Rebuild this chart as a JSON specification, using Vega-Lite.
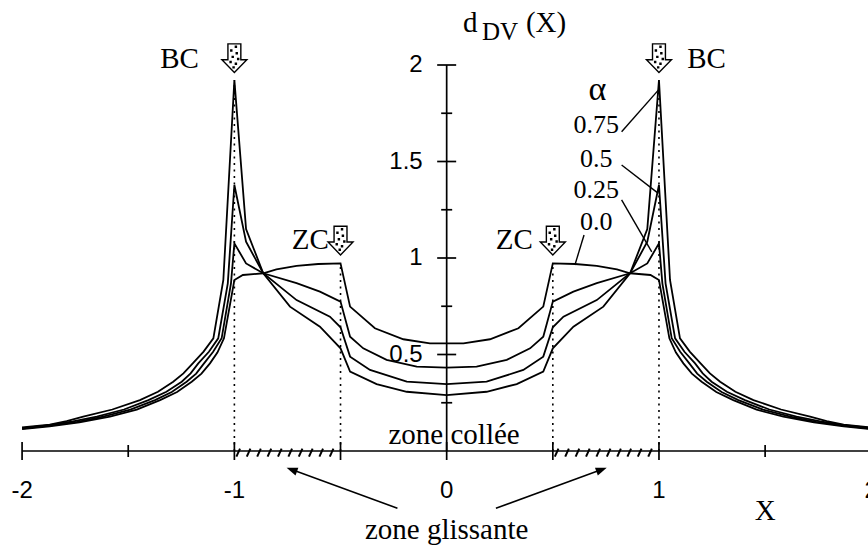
{
  "$schema": "https://vega.github.io/schema/vega-lite/v6.json",
  "width": 868,
  "height": 546,
  "padding": 0,
  "autosize": "none",
  "background": "white",
  "config": {"view": {"stroke": null}},
  "datasets": {
    "curves": [
      {"alpha": "0.0", "x": -2, "y": 0.113}, {"alpha": "0.0", "x": -1.87, "y": 0.128}, {"alpha": "0.0", "x": -1.73, "y": 0.149}, {"alpha": "0.0", "x": -1.586, "y": 0.178}, {"alpha": "0.0", "x": -1.46, "y": 0.214}, {"alpha": "0.0", "x": -1.35, "y": 0.264}, {"alpha": "0.0", "x": -1.27, "y": 0.306}, {"alpha": "0.0", "x": -1.201, "y": 0.359}, {"alpha": "0.0", "x": -1.155, "y": 0.401}, {"alpha": "0.0", "x": -1.115, "y": 0.454}, {"alpha": "0.0", "x": -1.08, "y": 0.51}, {"alpha": "0.0", "x": -1.049, "y": 0.584}, {"alpha": "0.0", "x": -1, "y": 0.886}, {"alpha": "0.0", "x": -0.96, "y": 0.912}, {"alpha": "0.0", "x": -0.864, "y": 0.921}, {"alpha": "0.0", "x": -0.802, "y": 0.941}, {"alpha": "0.0", "x": -0.707, "y": 0.959}, {"alpha": "0.0", "x": -0.605, "y": 0.969}, {"alpha": "0.0", "x": -0.5, "y": 0.972}, {"alpha": "0.0", "x": -0.455, "y": 0.748}, {"alpha": "0.0", "x": -0.338, "y": 0.636}, {"alpha": "0.0", "x": -0.204, "y": 0.579}, {"alpha": "0.0", "x": -0.079, "y": 0.558}, {"alpha": "0.0", "x": 0, "y": 0.558},
      {"alpha": "0.0", "x": 0.079, "y": 0.558}, {"alpha": "0.0", "x": 0.204, "y": 0.579}, {"alpha": "0.0", "x": 0.338, "y": 0.636}, {"alpha": "0.0", "x": 0.455, "y": 0.748}, {"alpha": "0.0", "x": 0.5, "y": 0.972}, {"alpha": "0.0", "x": 0.605, "y": 0.969}, {"alpha": "0.0", "x": 0.707, "y": 0.959}, {"alpha": "0.0", "x": 0.802, "y": 0.941}, {"alpha": "0.0", "x": 0.864, "y": 0.921}, {"alpha": "0.0", "x": 0.96, "y": 0.912}, {"alpha": "0.0", "x": 1, "y": 0.886}, {"alpha": "0.0", "x": 1.049, "y": 0.584}, {"alpha": "0.0", "x": 1.08, "y": 0.51}, {"alpha": "0.0", "x": 1.115, "y": 0.454}, {"alpha": "0.0", "x": 1.155, "y": 0.401}, {"alpha": "0.0", "x": 1.201, "y": 0.359}, {"alpha": "0.0", "x": 1.27, "y": 0.306}, {"alpha": "0.0", "x": 1.35, "y": 0.264}, {"alpha": "0.0", "x": 1.46, "y": 0.214}, {"alpha": "0.0", "x": 1.586, "y": 0.178}, {"alpha": "0.0", "x": 1.73, "y": 0.149}, {"alpha": "0.0", "x": 1.87, "y": 0.128}, {"alpha": "0.0", "x": 2, "y": 0.113},

      {"alpha": "0.25", "x": -2, "y": 0.116}, {"alpha": "0.25", "x": -1.87, "y": 0.131}, {"alpha": "0.25", "x": -1.74, "y": 0.151}, {"alpha": "0.25", "x": -1.618, "y": 0.178}, {"alpha": "0.25", "x": -1.49, "y": 0.214}, {"alpha": "0.25", "x": -1.374, "y": 0.264}, {"alpha": "0.25", "x": -1.295, "y": 0.306}, {"alpha": "0.25", "x": -1.225, "y": 0.359}, {"alpha": "0.25", "x": -1.18, "y": 0.401}, {"alpha": "0.25", "x": -1.143, "y": 0.454}, {"alpha": "0.25", "x": -1.1, "y": 0.514}, {"alpha": "0.25", "x": -1.06, "y": 0.584}, {"alpha": "0.25", "x": -1.016, "y": 0.869}, {"alpha": "0.25", "x": -1, "y": 1.076}, {"alpha": "0.25", "x": -0.945, "y": 0.972}, {"alpha": "0.25", "x": -0.864, "y": 0.921}, {"alpha": "0.25", "x": -0.707, "y": 0.87}, {"alpha": "0.25", "x": -0.597, "y": 0.826}, {"alpha": "0.25", "x": -0.5, "y": 0.774}, {"alpha": "0.25", "x": -0.455, "y": 0.592}, {"alpha": "0.25", "x": -0.393, "y": 0.532}, {"alpha": "0.25", "x": -0.283, "y": 0.472}, {"alpha": "0.25", "x": -0.141, "y": 0.437}, {"alpha": "0.25", "x": 0, "y": 0.432},
      {"alpha": "0.25", "x": 0.141, "y": 0.437}, {"alpha": "0.25", "x": 0.283, "y": 0.472}, {"alpha": "0.25", "x": 0.393, "y": 0.532}, {"alpha": "0.25", "x": 0.455, "y": 0.592}, {"alpha": "0.25", "x": 0.5, "y": 0.774}, {"alpha": "0.25", "x": 0.597, "y": 0.826}, {"alpha": "0.25", "x": 0.707, "y": 0.87}, {"alpha": "0.25", "x": 0.864, "y": 0.921}, {"alpha": "0.25", "x": 0.945, "y": 0.972}, {"alpha": "0.25", "x": 1, "y": 1.076}, {"alpha": "0.25", "x": 1.016, "y": 0.869}, {"alpha": "0.25", "x": 1.06, "y": 0.584}, {"alpha": "0.25", "x": 1.1, "y": 0.514}, {"alpha": "0.25", "x": 1.143, "y": 0.454}, {"alpha": "0.25", "x": 1.18, "y": 0.401}, {"alpha": "0.25", "x": 1.225, "y": 0.359}, {"alpha": "0.25", "x": 1.295, "y": 0.306}, {"alpha": "0.25", "x": 1.374, "y": 0.264}, {"alpha": "0.25", "x": 1.49, "y": 0.214}, {"alpha": "0.25", "x": 1.618, "y": 0.178}, {"alpha": "0.25", "x": 1.74, "y": 0.151}, {"alpha": "0.25", "x": 1.87, "y": 0.131}, {"alpha": "0.25", "x": 2, "y": 0.116},

      {"alpha": "0.5", "x": -2, "y": 0.119}, {"alpha": "0.5", "x": -1.87, "y": 0.134}, {"alpha": "0.5", "x": -1.76, "y": 0.154}, {"alpha": "0.5", "x": -1.648, "y": 0.178}, {"alpha": "0.5", "x": -1.52, "y": 0.215}, {"alpha": "0.5", "x": -1.405, "y": 0.264}, {"alpha": "0.5", "x": -1.32, "y": 0.307}, {"alpha": "0.5", "x": -1.248, "y": 0.359}, {"alpha": "0.5", "x": -1.206, "y": 0.402}, {"alpha": "0.5", "x": -1.17, "y": 0.454}, {"alpha": "0.5", "x": -1.12, "y": 0.514}, {"alpha": "0.5", "x": -1.076, "y": 0.584}, {"alpha": "0.5", "x": -1.031, "y": 0.869}, {"alpha": "0.5", "x": -1, "y": 1.378}, {"alpha": "0.5", "x": -0.945, "y": 1.084}, {"alpha": "0.5", "x": -0.864, "y": 0.921}, {"alpha": "0.5", "x": -0.707, "y": 0.782}, {"alpha": "0.5", "x": -0.55, "y": 0.696}, {"alpha": "0.5", "x": -0.5, "y": 0.641}, {"alpha": "0.5", "x": -0.455, "y": 0.489}, {"alpha": "0.5", "x": -0.361, "y": 0.42}, {"alpha": "0.5", "x": -0.188, "y": 0.359}, {"alpha": "0.5", "x": 0, "y": 0.347},
      {"alpha": "0.5", "x": 0.188, "y": 0.359}, {"alpha": "0.5", "x": 0.361, "y": 0.42}, {"alpha": "0.5", "x": 0.455, "y": 0.489}, {"alpha": "0.5", "x": 0.5, "y": 0.641}, {"alpha": "0.5", "x": 0.55, "y": 0.696}, {"alpha": "0.5", "x": 0.707, "y": 0.782}, {"alpha": "0.5", "x": 0.864, "y": 0.921}, {"alpha": "0.5", "x": 0.945, "y": 1.084}, {"alpha": "0.5", "x": 1, "y": 1.378}, {"alpha": "0.5", "x": 1.031, "y": 0.869}, {"alpha": "0.5", "x": 1.076, "y": 0.584}, {"alpha": "0.5", "x": 1.12, "y": 0.514}, {"alpha": "0.5", "x": 1.17, "y": 0.454}, {"alpha": "0.5", "x": 1.206, "y": 0.402}, {"alpha": "0.5", "x": 1.248, "y": 0.359}, {"alpha": "0.5", "x": 1.32, "y": 0.307}, {"alpha": "0.5", "x": 1.405, "y": 0.264}, {"alpha": "0.5", "x": 1.52, "y": 0.215}, {"alpha": "0.5", "x": 1.648, "y": 0.178}, {"alpha": "0.5", "x": 1.76, "y": 0.154}, {"alpha": "0.5", "x": 1.87, "y": 0.134}, {"alpha": "0.5", "x": 2, "y": 0.119},

      {"alpha": "0.75", "x": -2, "y": 0.122}, {"alpha": "0.75", "x": -1.87, "y": 0.137}, {"alpha": "0.75", "x": -1.79, "y": 0.155}, {"alpha": "0.75", "x": -1.712, "y": 0.178}, {"alpha": "0.75", "x": -1.575, "y": 0.215}, {"alpha": "0.75", "x": -1.445, "y": 0.264}, {"alpha": "0.75", "x": -1.36, "y": 0.307}, {"alpha": "0.75", "x": -1.288, "y": 0.359}, {"alpha": "0.75", "x": -1.24, "y": 0.402}, {"alpha": "0.75", "x": -1.196, "y": 0.454}, {"alpha": "0.75", "x": -1.145, "y": 0.515}, {"alpha": "0.75", "x": -1.099, "y": 0.584}, {"alpha": "0.75", "x": -1.052, "y": 0.886}, {"alpha": "0.75", "x": -1, "y": 1.922}, {"alpha": "0.75", "x": -0.945, "y": 1.15}, {"alpha": "0.75", "x": -0.864, "y": 0.921}, {"alpha": "0.75", "x": -0.738, "y": 0.748}, {"alpha": "0.75", "x": -0.597, "y": 0.644}, {"alpha": "0.75", "x": -0.5, "y": 0.532}, {"alpha": "0.75", "x": -0.455, "y": 0.411}, {"alpha": "0.75", "x": -0.33, "y": 0.347}, {"alpha": "0.75", "x": -0.188, "y": 0.307}, {"alpha": "0.75", "x": 0, "y": 0.29},
      {"alpha": "0.75", "x": 0.188, "y": 0.307}, {"alpha": "0.75", "x": 0.33, "y": 0.347}, {"alpha": "0.75", "x": 0.455, "y": 0.411}, {"alpha": "0.75", "x": 0.5, "y": 0.532}, {"alpha": "0.75", "x": 0.597, "y": 0.644}, {"alpha": "0.75", "x": 0.738, "y": 0.748}, {"alpha": "0.75", "x": 0.864, "y": 0.921}, {"alpha": "0.75", "x": 0.945, "y": 1.15}, {"alpha": "0.75", "x": 1, "y": 1.922}, {"alpha": "0.75", "x": 1.052, "y": 0.886}, {"alpha": "0.75", "x": 1.099, "y": 0.584}, {"alpha": "0.75", "x": 1.145, "y": 0.515}, {"alpha": "0.75", "x": 1.196, "y": 0.454}, {"alpha": "0.75", "x": 1.24, "y": 0.402}, {"alpha": "0.75", "x": 1.288, "y": 0.359}, {"alpha": "0.75", "x": 1.36, "y": 0.307}, {"alpha": "0.75", "x": 1.445, "y": 0.264}, {"alpha": "0.75", "x": 1.575, "y": 0.215}, {"alpha": "0.75", "x": 1.712, "y": 0.178}, {"alpha": "0.75", "x": 1.79, "y": 0.155}, {"alpha": "0.75", "x": 1.87, "y": 0.137}, {"alpha": "0.75", "x": 2, "y": 0.122}
    ],
    "axes": [
      {"axis": "x", "x": -2, "x2": 1.9846, "y": 0, "y2": 0},
      {"axis": "y", "x": 0, "x2": 0, "y": 0, "y2": 2}
    ],
    "vlines": [
      {"x": -1, "y": 0, "y2": 1.922}, {"x": -0.5, "y": 0, "y2": 0.972}, {"x": 0.5, "y": 0, "y2": 0.972}, {"x": 1, "y": 0, "y2": 1.922}
    ],
    "xticks": [
      {"x": -2, "kind": "major"}, {"x": -1.5, "kind": "minor"}, {"x": -1, "kind": "major"}, {"x": -0.5, "kind": "major"}, {"x": 0, "kind": "major"}, {"x": 0.5, "kind": "major"}, {"x": 1, "kind": "major"}, {"x": 1.5, "kind": "minor"}, {"x": 2, "kind": "major"}
    ],
    "yticks": [
      {"y": 0.25, "kind": "minor"}, {"y": 0.5, "kind": "major"}, {"y": 0.75, "kind": "minor"}, {"y": 1, "kind": "major"}, {"y": 1.25, "kind": "minor"}, {"y": 1.5, "kind": "major"}, {"y": 1.75, "kind": "minor"}, {"y": 2, "kind": "major"}
    ],
    "hatch": [
      {"x": -0.982}, {"x": -0.933}, {"x": -0.884}, {"x": -0.835}, {"x": -0.786}, {"x": -0.737}, {"x": -0.688}, {"x": -0.64}, {"x": -0.591}, {"x": -0.542},
      {"x": 0.518}, {"x": 0.567}, {"x": 0.616}, {"x": 0.665}, {"x": 0.714}, {"x": 0.763}, {"x": 0.812}, {"x": 0.86}, {"x": 0.909}, {"x": 0.958}
    ],
    "markers": [
      {"x": -1, "y": 2.035}, {"x": 1, "y": 2.035}, {"x": -0.5, "y": 1.09}, {"x": 0.5, "y": 1.09}
    ],
    "leaders": [
      {"alpha": "0.75", "x": 0.824, "y": 1.654, "x2": 0.997, "y2": 1.87},
      {"alpha": "0.5", "x": 0.824, "y": 1.482, "x2": 0.997, "y2": 1.335},
      {"alpha": "0.25", "x": 0.824, "y": 1.301, "x2": 0.966, "y2": 1.032},
      {"alpha": "0.0", "x": 0.647, "y": 1.119, "x2": 0.604, "y2": 0.964}
    ],
    "glarrows": [
      {"side": "left", "x": -0.232, "y": -0.297, "x2": -0.74, "y2": -0.092},
      {"side": "right", "x": 0.232, "y": -0.297, "x2": 0.74, "y2": -0.092}
    ],
    "glheads": [
      {"side": "left", "x": -0.754, "y": -0.087},
      {"side": "right", "x": 0.754, "y": -0.087}
    ],
    "xlabels": [
      {"x": -2, "text": "-2"}, {"x": -1, "text": "-1"}, {"x": 0, "text": "0"}, {"x": 1, "text": "1"}, {"x": 2, "text": "2"}
    ],
    "ylabels": [
      {"y": 0.5, "text": "0.5"}, {"y": 1, "text": "1"}, {"y": 1.5, "text": "1.5"}, {"y": 2, "text": "2"}
    ],
    "serif": [
      {"grp": "main", "x": -1.258, "y": 1.983, "text": "BC"},
      {"grp": "main", "x": 1.224, "y": 1.983, "text": "BC"},
      {"grp": "main", "x": -0.642, "y": 1.047, "text": "ZC"},
      {"grp": "main", "x": 0.319, "y": 1.047, "text": "ZC"},
      {"grp": "main", "x": 0.035, "y": 0.036, "text": "zone collée"},
      {"grp": "main", "x": 0, "y": -0.456, "text": "zone glissante"},
      {"grp": "main", "x": 1.5, "y": -0.3575, "text": "X"},
      {"grp": "alpha", "x": 0.71, "y": 1.819, "text": "α"},
      {"grp": "num", "x": 0.704, "y": 1.646, "text": "0.75"},
      {"grp": "num", "x": 0.704, "y": 1.473, "text": "0.5"},
      {"grp": "num", "x": 0.704, "y": 1.311, "text": "0.25"},
      {"grp": "num", "x": 0.704, "y": 1.145, "text": "0.0"},
      {"grp": "title", "x": 0.077, "y": 2.171, "text": "d"},
      {"grp": "sub", "x": 0.1662, "y": 2.1295, "text": "DV"},
      {"grp": "title", "x": 0.3735, "y": 2.171, "text": "(X)"}
    ]
  },
  "layer": [
    {
      "data": {"name": "vlines"},
      "mark": {"type": "rule", "color": "black", "strokeWidth": 1.6, "strokeDash": [2, 4.5]},
      "encoding": {
        "x": {"field": "x", "type": "quantitative", "scale": {"domain": [-2.104, 1.9846], "nice": false, "zero": false}, "axis": null},
        "y": {"field": "y", "type": "quantitative", "scale": {"domain": [-0.4922, 2.3368], "nice": false, "zero": false}, "axis": null},
        "y2": {"field": "y2"}
      }
    },
    {
      "data": {"name": "curves"},
      "mark": {"type": "line", "color": "black", "strokeWidth": 1.8},
      "encoding": {
        "x": {"field": "x", "type": "quantitative", "scale": {"domain": [-2.104, 1.9846], "nice": false, "zero": false}, "axis": null},
        "y": {"field": "y", "type": "quantitative", "scale": {"domain": [-0.4922, 2.3368], "nice": false, "zero": false}, "axis": null},
        "detail": {"field": "alpha", "type": "nominal"}
      }
    },
    {
      "data": {"name": "axes"},
      "mark": {"type": "rule", "color": "black", "strokeWidth": 1.7},
      "encoding": {
        "x": {"field": "x", "type": "quantitative", "scale": {"domain": [-2.104, 1.9846], "nice": false, "zero": false}, "axis": null},
        "y": {"field": "y", "type": "quantitative", "scale": {"domain": [-0.4922, 2.3368], "nice": false, "zero": false}, "axis": null},
        "x2": {"field": "x2"},
        "y2": {"field": "y2"}
      }
    },
    {
      "data": {"name": "xticks"},
      "transform": [{"filter": "datum.kind == 'major'"}],
      "mark": {"type": "tick", "orient": "vertical", "color": "black", "size": 18, "thickness": 1.7, "opacity": 1},
      "encoding": {
        "x": {"field": "x", "type": "quantitative", "scale": {"domain": [-2.104, 1.9846], "nice": false, "zero": false}, "axis": null},
        "y": {"datum": 0, "type": "quantitative", "scale": {"domain": [-0.4922, 2.3368], "nice": false, "zero": false}, "axis": null}
      }
    },
    {
      "data": {"name": "xticks"},
      "transform": [{"filter": "datum.kind == 'minor'"}],
      "mark": {"type": "tick", "orient": "vertical", "color": "black", "size": 12, "thickness": 1.7, "opacity": 1},
      "encoding": {
        "x": {"field": "x", "type": "quantitative", "scale": {"domain": [-2.104, 1.9846], "nice": false, "zero": false}, "axis": null},
        "y": {"datum": 0, "type": "quantitative", "scale": {"domain": [-0.4922, 2.3368], "nice": false, "zero": false}, "axis": null}
      }
    },
    {
      "data": {"name": "yticks"},
      "transform": [{"filter": "datum.kind == 'major'"}],
      "mark": {"type": "tick", "orient": "horizontal", "color": "black", "size": 19, "thickness": 1.7, "opacity": 1},
      "encoding": {
        "x": {"datum": 0, "type": "quantitative", "scale": {"domain": [-2.104, 1.9846], "nice": false, "zero": false}, "axis": null},
        "y": {"field": "y", "type": "quantitative", "scale": {"domain": [-0.4922, 2.3368], "nice": false, "zero": false}, "axis": null}
      }
    },
    {
      "data": {"name": "yticks"},
      "transform": [{"filter": "datum.kind == 'minor'"}],
      "mark": {"type": "tick", "orient": "horizontal", "color": "black", "size": 11, "thickness": 1.7, "opacity": 1},
      "encoding": {
        "x": {"datum": 0, "type": "quantitative", "scale": {"domain": [-2.104, 1.9846], "nice": false, "zero": false}, "axis": null},
        "y": {"field": "y", "type": "quantitative", "scale": {"domain": [-0.4922, 2.3368], "nice": false, "zero": false}, "axis": null}
      }
    },
    {
      "data": {"name": "hatch"},
      "mark": {"type": "point", "shape": "M-0.45,1L0.45,-1", "size": 64, "filled": false, "stroke": "black", "strokeWidth": 2, "opacity": 1},
      "encoding": {
        "x": {"field": "x", "type": "quantitative", "scale": {"domain": [-2.104, 1.9846], "nice": false, "zero": false}, "axis": null},
        "y": {"datum": -0.008, "type": "quantitative", "scale": {"domain": [-0.4922, 2.3368], "nice": false, "zero": false}, "axis": null}
      }
    },
    {
      "data": {"name": "markers"},
      "mark": {"type": "point", "shape": "M-0.45,-1L0.45,-1L0.45,0.1L0.87,0.1L0,1L-0.87,0.1L-0.45,0.1Z", "size": 824, "filled": true, "fill": "white", "stroke": "black", "strokeWidth": 1.4, "opacity": 1, "fillOpacity": 1},
      "encoding": {
        "x": {"field": "x", "type": "quantitative", "scale": {"domain": [-2.104, 1.9846], "nice": false, "zero": false}, "axis": null},
        "y": {"field": "y", "type": "quantitative", "scale": {"domain": [-0.4922, 2.3368], "nice": false, "zero": false}, "axis": null}
      }
    },
    {
      "data": {"name": "markers"},
      "mark": {"type": "point", "shape": "M0.02,-0.88h0.17v0.17h-0.17zM-0.3,-0.63h0.17v0.17h-0.17zM0.08,-0.43h0.17v0.17h-0.17zM-0.2,-0.18h0.17v0.17h-0.17zM0.18,-0.03h0.17v0.17h-0.17zM-0.35,0.17h0.17v0.17h-0.17zM0.02,0.3h0.17v0.17h-0.17zM-0.14,0.55h0.17v0.17h-0.17z", "size": 824, "filled": true, "fill": "black", "strokeWidth": 0, "opacity": 1, "fillOpacity": 1},
      "encoding": {
        "x": {"field": "x", "type": "quantitative", "scale": {"domain": [-2.104, 1.9846], "nice": false, "zero": false}, "axis": null},
        "y": {"field": "y", "type": "quantitative", "scale": {"domain": [-0.4922, 2.3368], "nice": false, "zero": false}, "axis": null}
      }
    },
    {
      "data": {"name": "leaders"},
      "mark": {"type": "rule", "color": "black", "strokeWidth": 1.4},
      "encoding": {
        "x": {"field": "x", "type": "quantitative", "scale": {"domain": [-2.104, 1.9846], "nice": false, "zero": false}, "axis": null},
        "y": {"field": "y", "type": "quantitative", "scale": {"domain": [-0.4922, 2.3368], "nice": false, "zero": false}, "axis": null},
        "x2": {"field": "x2"},
        "y2": {"field": "y2"}
      }
    },
    {
      "data": {"name": "glarrows"},
      "mark": {"type": "rule", "color": "black", "strokeWidth": 1.5},
      "encoding": {
        "x": {"field": "x", "type": "quantitative", "scale": {"domain": [-2.104, 1.9846], "nice": false, "zero": false}, "axis": null},
        "y": {"field": "y", "type": "quantitative", "scale": {"domain": [-0.4922, 2.3368], "nice": false, "zero": false}, "axis": null},
        "x2": {"field": "x2"},
        "y2": {"field": "y2"}
      }
    },
    {
      "data": {"name": "glheads"},
      "transform": [{"filter": "datum.side == 'left'"}],
      "mark": {"type": "point", "shape": "M0,0L0.38,1L-0.38,1Z", "size": 484, "filled": true, "fill": "black", "strokeWidth": 0, "angle": 290, "opacity": 1},
      "encoding": {
        "x": {"field": "x", "type": "quantitative", "scale": {"domain": [-2.104, 1.9846], "nice": false, "zero": false}, "axis": null},
        "y": {"field": "y", "type": "quantitative", "scale": {"domain": [-0.4922, 2.3368], "nice": false, "zero": false}, "axis": null}
      }
    },
    {
      "data": {"name": "glheads"},
      "transform": [{"filter": "datum.side == 'right'"}],
      "mark": {"type": "point", "shape": "M0,0L0.38,1L-0.38,1Z", "size": 484, "filled": true, "fill": "black", "strokeWidth": 0, "angle": 70, "opacity": 1},
      "encoding": {
        "x": {"field": "x", "type": "quantitative", "scale": {"domain": [-2.104, 1.9846], "nice": false, "zero": false}, "axis": null},
        "y": {"field": "y", "type": "quantitative", "scale": {"domain": [-0.4922, 2.3368], "nice": false, "zero": false}, "axis": null}
      }
    },
    {
      "data": {"name": "xlabels"},
      "mark": {"type": "text", "font": "Liberation Sans", "fontSize": 24, "align": "center", "baseline": "middle", "dy": 40, "color": "black"},
      "encoding": {
        "x": {"field": "x", "type": "quantitative", "scale": {"domain": [-2.104, 1.9846], "nice": false, "zero": false}, "axis": null},
        "y": {"datum": 0, "type": "quantitative", "scale": {"domain": [-0.4922, 2.3368], "nice": false, "zero": false}, "axis": null},
        "text": {"field": "text"}
      }
    },
    {
      "data": {"name": "ylabels"},
      "mark": {"type": "text", "font": "Liberation Sans", "fontSize": 24, "align": "right", "baseline": "middle", "dx": -24, "color": "black"},
      "encoding": {
        "x": {"datum": 0, "type": "quantitative", "scale": {"domain": [-2.104, 1.9846], "nice": false, "zero": false}, "axis": null},
        "y": {"field": "y", "type": "quantitative", "scale": {"domain": [-0.4922, 2.3368], "nice": false, "zero": false}, "axis": null},
        "text": {"field": "text"}
      }
    },
    {
      "data": {"name": "serif"},
      "transform": [{"filter": "datum.grp == 'main'"}],
      "mark": {"type": "text", "font": "Liberation Serif", "fontSize": 29, "align": "center", "baseline": "alphabetic", "color": "black"},
      "encoding": {
        "x": {"field": "x", "type": "quantitative", "scale": {"domain": [-2.104, 1.9846], "nice": false, "zero": false}, "axis": null},
        "y": {"field": "y", "type": "quantitative", "scale": {"domain": [-0.4922, 2.3368], "nice": false, "zero": false}, "axis": null},
        "text": {"field": "text"}
      }
    },
    {
      "data": {"name": "serif"},
      "transform": [{"filter": "datum.grp == 'num'"}],
      "mark": {"type": "text", "font": "Liberation Serif", "fontSize": 26, "align": "center", "baseline": "alphabetic", "color": "black"},
      "encoding": {
        "x": {"field": "x", "type": "quantitative", "scale": {"domain": [-2.104, 1.9846], "nice": false, "zero": false}, "axis": null},
        "y": {"field": "y", "type": "quantitative", "scale": {"domain": [-0.4922, 2.3368], "nice": false, "zero": false}, "axis": null},
        "text": {"field": "text"}
      }
    },
    {
      "data": {"name": "serif"},
      "transform": [{"filter": "datum.grp == 'alpha'"}],
      "mark": {"type": "text", "font": "Liberation Serif", "fontSize": 34, "align": "center", "baseline": "alphabetic", "color": "black"},
      "encoding": {
        "x": {"field": "x", "type": "quantitative", "scale": {"domain": [-2.104, 1.9846], "nice": false, "zero": false}, "axis": null},
        "y": {"field": "y", "type": "quantitative", "scale": {"domain": [-0.4922, 2.3368], "nice": false, "zero": false}, "axis": null},
        "text": {"field": "text"}
      }
    },
    {
      "data": {"name": "serif"},
      "transform": [{"filter": "datum.grp == 'title'"}],
      "mark": {"type": "text", "font": "Liberation Serif", "fontSize": 29, "align": "left", "baseline": "alphabetic", "color": "black"},
      "encoding": {
        "x": {"field": "x", "type": "quantitative", "scale": {"domain": [-2.104, 1.9846], "nice": false, "zero": false}, "axis": null},
        "y": {"field": "y", "type": "quantitative", "scale": {"domain": [-0.4922, 2.3368], "nice": false, "zero": false}, "axis": null},
        "text": {"field": "text"}
      }
    },
    {
      "data": {"name": "serif"},
      "transform": [{"filter": "datum.grp == 'sub'"}],
      "mark": {"type": "text", "font": "Liberation Serif", "fontSize": 25, "align": "left", "baseline": "alphabetic", "color": "black"},
      "encoding": {
        "x": {"field": "x", "type": "quantitative", "scale": {"domain": [-2.104, 1.9846], "nice": false, "zero": false}, "axis": null},
        "y": {"field": "y", "type": "quantitative", "scale": {"domain": [-0.4922, 2.3368], "nice": false, "zero": false}, "axis": null},
        "text": {"field": "text"}
      }
    }
  ]
}
